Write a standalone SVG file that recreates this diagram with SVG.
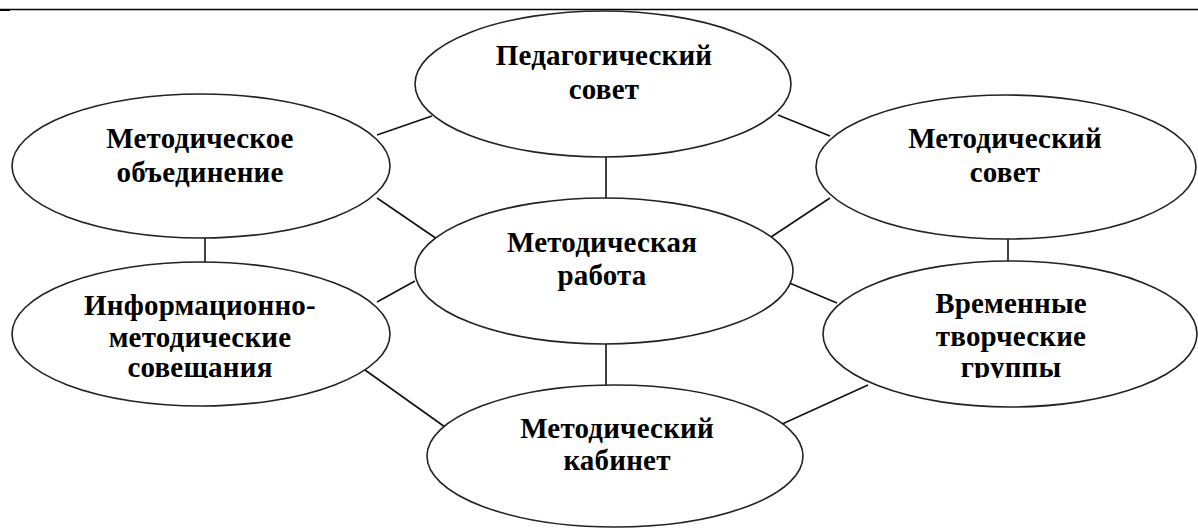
<svg xmlns="http://www.w3.org/2000/svg" width="1198" height="528" viewBox="0 0 1198 528">
<style>
.n ellipse{fill:#fff;stroke:#222;stroke-width:1.6}
.n text{font-family:"Liberation Serif","Times New Roman",serif;font-weight:bold;font-size:29px;letter-spacing:0.2px;fill:#000;text-anchor:middle}
#connectors line{stroke:#111;stroke-width:1.6}
</style>
<defs>
<clipPath id="clipL"><rect x="0" y="260" width="420" height="118"/></clipPath>
<clipPath id="clipR"><rect x="780" y="260" width="418" height="118"/></clipPath>
</defs>
<rect width="1198" height="528" fill="#fff"/>
<line x1="0" y1="9.5" x2="1198" y2="9.5" stroke="#000" stroke-width="1.5"/>
<rect x="0" y="9" width="10" height="2" fill="#000"/>
<g id="connectors">
<line x1="377" y1="135" x2="432" y2="116"/>
<line x1="778" y1="115" x2="830" y2="136"/>
<line x1="377" y1="198" x2="437" y2="239"/>
<line x1="768" y1="239" x2="830" y2="198"/>
<line x1="377" y1="302" x2="415" y2="281"/>
<line x1="787" y1="282" x2="837" y2="303"/>
<line x1="358" y1="365" x2="445" y2="427"/>
<line x1="868" y1="385" x2="780" y2="425"/>
<line x1="606" y1="157" x2="606" y2="198"/>
<line x1="606" y1="344" x2="606" y2="385"/>
<line x1="205" y1="238" x2="205" y2="262"/>
<line x1="1008" y1="239" x2="1008" y2="262"/>
</g>
<g id="ped-sovet" class="n">
<ellipse cx="603" cy="84" rx="188" ry="73"/>
<text x="604" y="65">Педагогический</text>
<text x="604" y="99">совет</text>
</g>
<g id="metod-obed" class="n">
<ellipse cx="201" cy="166" rx="189" ry="72"/>
<text x="200" y="148">Методическое</text>
<text x="200" y="182">объединение</text>
</g>
<g id="metod-sovet" class="n">
<ellipse cx="1006" cy="167" rx="190" ry="72"/>
<text x="1005" y="148">Методический</text>
<text x="1005" y="182">совет</text>
</g>
<g id="metod-rabota" class="n">
<ellipse cx="604" cy="271" rx="189" ry="73"/>
<text x="602" y="252">Методическая</text>
<text x="602" y="285">работа</text>
</g>
<g id="info-sov" class="n">
<ellipse cx="201" cy="334" rx="189" ry="72"/>
<g clip-path="url(#clipL)">
<text x="200" y="315">Информационно-</text>
<text x="200" y="347">методические</text>
<text x="200" y="377">совещания</text>
</g>
</g>
<g id="vtg" class="n">
<ellipse cx="1010" cy="334" rx="187" ry="73"/>
<g clip-path="url(#clipR)">
<text x="1011" y="313">Временные</text>
<text x="1011" y="346">творческие</text>
<text x="1011" y="377">группы</text>
</g>
</g>
<g id="kabinet" class="n">
<ellipse cx="615" cy="456" rx="188" ry="71"/>
<text x="617" y="438">Методический</text>
<text x="617" y="470">кабинет</text>
</g>
</svg>
